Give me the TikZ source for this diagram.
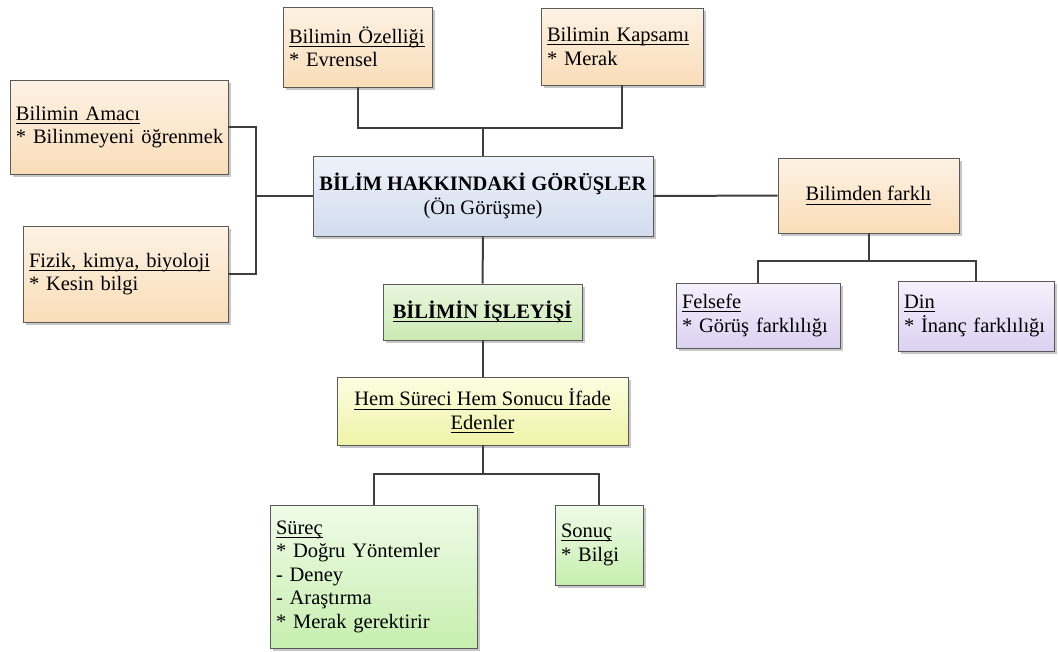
\documentclass[tikz,border=0pt]{standalone}
\usepackage{fontspec}
\setmainfont{Liberation Serif}
\usetikzlibrary{shadows}
\hyphenpenalty=10000
\exhyphenpenalty=10000

% underline set just below the baseline, crossing descenders
\newcommand{\uln}[1]{\leavevmode\setbox0\hbox{#1}\rlap{\vrule width \wd0 height -2.6pt depth 3.5pt}\box0}

\definecolor{linegray}{HTML}{3F3F3F}
\definecolor{edgegray}{HTML}{5A5A5A}
\definecolor{orgtop}{HTML}{FDF2E4}
\definecolor{orgbot}{HTML}{FADDB8}
\definecolor{blutop}{HTML}{EEF2FA}
\definecolor{blubot}{HTML}{D2DCEE}
\definecolor{grntop}{HTML}{E9F6DF}
\definecolor{grnbot}{HTML}{CBEAB2}
\definecolor{yeltop}{HTML}{FCFDE2}
\definecolor{yelbot}{HTML}{EFF3A6}
\definecolor{lgrtop}{HTML}{EFFBE8}
\definecolor{lgrbot}{HTML}{C6EFAE}
\definecolor{purtop}{HTML}{F5F1FC}
\definecolor{purbot}{HTML}{DCD1F1}

\tikzset{
  card/.style={draw=edgegray, line width=0.8pt, rectangle, inner xsep=6pt, inner ysep=2pt,
    font=\fontsize{20.5}{23.5}\selectfont,
    drop shadow={shadow xshift=3pt, shadow yshift=-3pt, fill=black, opacity=0.22}},
  orange/.style={card, top color=orgtop, bottom color=orgbot},
  blue/.style={card, top color=blutop, bottom color=blubot},
  green/.style={card, top color=grntop, bottom color=grnbot},
  yellow/.style={card, top color=yeltop, bottom color=yelbot},
  lgreen/.style={card, top color=lgrtop, bottom color=lgrbot},
  purple/.style={card, top color=purtop, bottom color=purbot},
  link/.style={draw=linegray, line width=2pt}
}

\begin{document}
\begin{tikzpicture}[x=1pt, y=-1pt]
\useasboundingbox[fill=white] (0,0) rectangle (1058,651);

% top row
\node[orange, text width=137pt, minimum height=80pt, align=left] (oz) at (357.5,47)
  {\uln{Bilimin Özelliği}\\{}* Evrensel};
\node[orange, text width=150pt, minimum height=77pt, align=left] (kap) at (622,46.5)
  {\uln{Bilimin Kapsamı}\\{}* Merak};

% left column
\node[orange, text width=206pt, minimum height=94pt, align=left] (am) at (119,127)
  {\uln{Bilimin Amacı}\\\mbox{* Bilinmeyeni öğrenmek}};
\node[orange, text width=193pt, minimum height=96pt, align=left] (fz) at (125.5,274)
  {\uln{Fizik, kimya, biyoloji}\\{}* Kesin bilgi};

% centre
\node[blue, minimum width=340pt, minimum height=80pt, align=center] (cen) at (483,196)
  {\textbf{BİLİM HAKKINDAKİ GÖRÜŞLER}\\(Ön Görüşme)};
\node[green, minimum width=199pt, minimum height=56pt, align=center] (isl) at (482.5,312)
  {\uln{\textbf{BİLİMİN İŞLEYİŞİ}}};
\node[yellow, minimum width=291pt, minimum height=68pt, align=center] (hem) at (482.5,411)
  {\uln{Hem Süreci Hem Sonucu İfade}\\\uln{Edenler}};

% right branch
\node[orange, minimum width=181pt, minimum height=75pt, align=center] (bf) at (868.5,195.5)
  {\uln{Bilimden farklı}};
\node[purple, text width=152pt, minimum height=65pt, align=left] (fel) at (758,315.5)
  {\uln{Felsefe}\\{}* Görüş farklılığı};
\node[purple, text width=144pt, minimum height=70pt, align=left] (din) at (976,316)
  {\uln{Din}\\{}* İnanç farklılığı};

% bottom row
\node[lgreen, text width=195pt, minimum height=143pt, align=left] (sur) at (373.5,576.5)
  {\uln{Süreç}\\{}* Doğru Yöntemler\\- Deney\\- Araştırma\\{}* Merak gerektirir};
\node[lgreen, text width=76pt, minimum height=80pt, align=left] (son) at (599,545)
  {\uln{Sonuç}\\{}* Bilgi};

% junction points
\coordinate (tj) at (483,128);
\coordinate (lj) at (256,196);
\coordinate (rj) at (868.5,261);
\coordinate (bj) at (482.5,474);

% connectors
\draw[link] (oz.south) |- (tj) -| (kap.south);
\draw[link] (tj) -- (cen.north);
\draw[link] (am.east) -| (lj);
\draw[link] (fz.east) -| (lj);
\draw[link] (lj) -- (cen.west);
\draw[link] (cen.east) -- (bf.west);
\draw[link] (bf.south) -- (rj);
\draw[link] (fel.north) |- (rj) -| (din.north);
\draw[link] (cen.south) -- (isl.north);
\draw[link] (isl.south) -- (hem.north);
\draw[link] (hem.south) -- (bj);
\draw[link] (sur.north) |- (bj) -| (son.north);
\end{tikzpicture}
\end{document}
